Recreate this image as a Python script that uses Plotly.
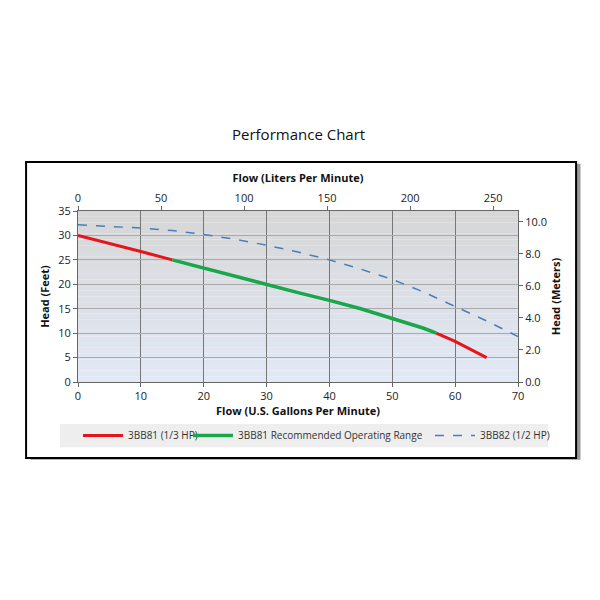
import plotly.graph_objects as go

# pump curves, head in feet vs flow in US gpm
red_lo_x = [0, 5, 10, 15]
red_lo_y = [30, 28.4, 26.7, 25]
green_x = [15, 20, 25, 30, 35, 40, 45, 50, 55, 57]
green_y = [25, 23.3, 21.6, 20, 18.3, 16.7, 15, 13, 11, 10]
red_hi_x = [57, 60, 65]
red_hi_y = [10, 8.3, 5]
blue_x = [0, 5, 10, 15, 20, 25, 30, 35, 40, 45, 50, 55, 60, 65, 70]
blue_y = [32.2, 31.9, 31.5, 31.0, 30.2, 29.2, 28.0, 26.6, 25.0, 23.1, 21.0, 18.4, 15.5, 12.5, 9.3]

fig = go.Figure()

# outer black frame with shadow (drawn first so it sits underneath)
fig.add_shape(type="rect", xref="paper", yref="paper", x0=-0.108, x1=1.142,
              y0=-0.454, y1=1.277, line_width=0, fillcolor="#999", layer="below")
fig.add_shape(type="rect", xref="paper", yref="paper", x0=-0.118, x1=1.132,
              y0=-0.444, y1=1.287, line=dict(color="black", width=2),
              fillcolor="white", layer="below")
# legend strip
fig.add_shape(type="rect", xref="paper", yref="paper", x0=-0.041, x1=1.068,
              y0=-0.381, y1=-0.246, line_width=0, fillcolor="#eeeeee", layer="below")

# gradient background bands (gray top -> light blue bottom)
n = 30
for i in range(n):
    t = i / (n - 1)
    r = int(215 + (226 - 215) * t)
    g = int(215 + (233 - 215) * t)
    b = int(215 + (246 - 215) * t)
    fig.add_shape(type="rect", xref="paper", yref="paper", x0=0, x1=1,
                  y0=1 - (i + 1) / n, y1=1 - i / n, line_width=0,
                  fillcolor=f"rgb({r},{g},{b})", layer="below")

fig.add_trace(go.Scatter(x=red_lo_x, y=red_lo_y, mode="lines", name="3BB81 (1/3 HP)",
                         legend="legend", line=dict(color="#e8141c", width=3)))
fig.add_trace(go.Scatter(x=red_hi_x, y=red_hi_y, mode="lines", showlegend=False,
                         line=dict(color="#e8141c", width=3)))
fig.add_trace(go.Scatter(x=green_x, y=green_y, mode="lines",
                         name="3BB81 Recommended Operating Range", legend="legend2",
                         line=dict(color="#1aa64a", width=3.5)))
fig.add_trace(go.Scatter(x=blue_x, y=blue_y, mode="lines", name="3BB82 (1/2 HP)",
                         legend="legend3",
                         line=dict(color="#4a7ebb", width=1.5, dash="dash")))
# dummy trace for secondary axes
fig.add_trace(go.Scatter(x=[0], y=[0], xaxis="x2", yaxis="y2", mode="markers",
                         marker=dict(opacity=0), showlegend=False, hoverinfo="skip"))

font = dict(family="Open Sans, Arial", size=11, color="#222")
tfont = dict(family="Open Sans, Arial", size=11, color="#111")
lfont = dict(family="Open Sans, Arial", size=10, color="#333")
leg = dict(orientation="h", y=-0.313, yanchor="middle", xanchor="left",
           bgcolor="rgba(0,0,0,0)", font=lfont, itemwidth=40)

fig.update_layout(
    width=600, height=600, paper_bgcolor="white", plot_bgcolor="rgba(0,0,0,0)",
    margin=dict(l=70, r=90, t=203, b=226), font=font,
    xaxis=dict(range=[0, 70], dtick=10, showgrid=True, gridcolor="#777", gridwidth=1,
               zeroline=False, showline=True, linecolor="#666", ticks="outside",
               ticklen=4, tickcolor="#666",
               title=dict(text="<b>Flow (U.S. Gallons Per Minute)</b>", font=tfont, standoff=4)),
    xaxis2=dict(range=[0, 265], dtick=50, overlaying="x", side="top", showgrid=False,
                zeroline=False, showline=True, linecolor="#666", ticks="outside",
                ticklen=4, tickcolor="#666",
                title=dict(text="<b>Flow (Liters Per Minute)</b>", font=tfont, standoff=4)),
    yaxis=dict(range=[0, 35], dtick=5, showgrid=True, gridcolor="#aaa", zeroline=False,
               showline=True, linecolor="#666", ticks="outside", ticklen=4, tickcolor="#666",
               title=dict(text="<b>Head (Feet)</b>", font=tfont, standoff=6)),
    yaxis2=dict(range=[0, 35 * 0.3048], dtick=2, tickformat=".1f", overlaying="y",
                side="right", showgrid=False, zeroline=False, showline=True,
                linecolor="#666", ticks="outside", ticklen=4, tickcolor="#666",
                title=dict(text="<b>Head (Meters)</b>", font=tfont, standoff=6)),
    legend=dict(leg, x=0.0),
    legend2=dict(leg, x=0.25),
    legend3=dict(leg, x=0.8),
    showlegend=True,
)

fig.add_annotation(text="Performance Chart", xref="paper", yref="paper", x=0.5,
                   y=1.52, showarrow=False,
                   font=dict(family="Open Sans, Arial", size=15, color="#111"))

fig.write_html("out.html")
